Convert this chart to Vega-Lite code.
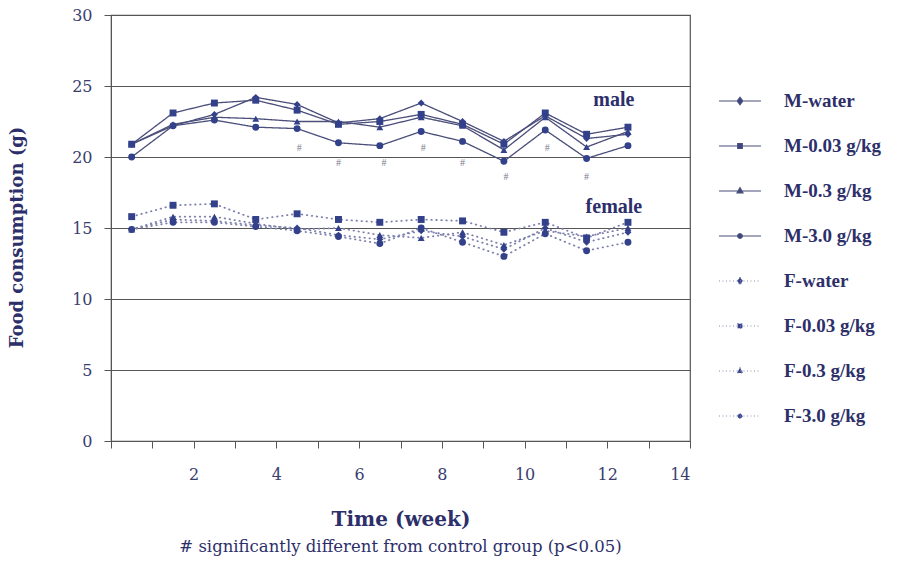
{
  "$schema": "https://vega.github.io/schema/vega-lite/v6.json",
  "width": 579,
  "height": 426,
  "autosize": "none",
  "padding": {"left": 111, "top": 15, "right": 213, "bottom": 125},
  "background": "white",
  "title": {
    "text": "# significantly different from control group (p<0.05)",
    "orient": "bottom",
    "anchor": "middle",
    "frame": "group",
    "offset": 10,
    "font": "DejaVu Serif",
    "fontSize": 16.5,
    "fontWeight": "normal",
    "color": "#2d2f6a"
  },
  "config": {
    "view": {"stroke": "#555", "strokeWidth": 1.2},
    "axis": {
      "domainColor": "#555",
      "tickColor": "#555",
      "tickSize": 7,
      "labelFont": "DejaVu Serif",
      "labelFontSize": 15,
      "labelColor": "#3a3d6e",
      "titleFont": "DejaVu Serif",
      "titleFontWeight": "bold",
      "titleColor": "#2d2f6a"
    }
  },
  "datasets": {
    "food": [
      {"week": 0.5, "value": 20.9, "series": "M-water", "sex": "M"},
      {"week": 1.5, "value": 22.2, "series": "M-water", "sex": "M"},
      {"week": 2.5, "value": 23.0, "series": "M-water", "sex": "M"},
      {"week": 3.5, "value": 24.2, "series": "M-water", "sex": "M"},
      {"week": 4.5, "value": 23.7, "series": "M-water", "sex": "M"},
      {"week": 5.5, "value": 22.4, "series": "M-water", "sex": "M"},
      {"week": 6.5, "value": 22.7, "series": "M-water", "sex": "M"},
      {"week": 7.5, "value": 23.8, "series": "M-water", "sex": "M"},
      {"week": 8.5, "value": 22.5, "series": "M-water", "sex": "M"},
      {"week": 9.5, "value": 21.1, "series": "M-water", "sex": "M"},
      {"week": 10.5, "value": 22.9, "series": "M-water", "sex": "M"},
      {"week": 11.5, "value": 21.3, "series": "M-water", "sex": "M"},
      {"week": 12.5, "value": 21.6, "series": "M-water", "sex": "M"},

      {"week": 0.5, "value": 20.9, "series": "M-0.03 g/kg", "sex": "M"},
      {"week": 1.5, "value": 23.1, "series": "M-0.03 g/kg", "sex": "M"},
      {"week": 2.5, "value": 23.8, "series": "M-0.03 g/kg", "sex": "M"},
      {"week": 3.5, "value": 24.0, "series": "M-0.03 g/kg", "sex": "M"},
      {"week": 4.5, "value": 23.3, "series": "M-0.03 g/kg", "sex": "M"},
      {"week": 5.5, "value": 22.3, "series": "M-0.03 g/kg", "sex": "M"},
      {"week": 6.5, "value": 22.5, "series": "M-0.03 g/kg", "sex": "M"},
      {"week": 7.5, "value": 23.0, "series": "M-0.03 g/kg", "sex": "M"},
      {"week": 8.5, "value": 22.3, "series": "M-0.03 g/kg", "sex": "M"},
      {"week": 9.5, "value": 20.9, "series": "M-0.03 g/kg", "sex": "M"},
      {"week": 10.5, "value": 23.1, "series": "M-0.03 g/kg", "sex": "M"},
      {"week": 11.5, "value": 21.6, "series": "M-0.03 g/kg", "sex": "M"},
      {"week": 12.5, "value": 22.1, "series": "M-0.03 g/kg", "sex": "M"},

      {"week": 0.5, "value": 20.9, "series": "M-0.3 g/kg", "sex": "M"},
      {"week": 1.5, "value": 22.3, "series": "M-0.3 g/kg", "sex": "M"},
      {"week": 2.5, "value": 22.8, "series": "M-0.3 g/kg", "sex": "M"},
      {"week": 3.5, "value": 22.7, "series": "M-0.3 g/kg", "sex": "M"},
      {"week": 4.5, "value": 22.5, "series": "M-0.3 g/kg", "sex": "M"},
      {"week": 5.5, "value": 22.5, "series": "M-0.3 g/kg", "sex": "M"},
      {"week": 6.5, "value": 22.1, "series": "M-0.3 g/kg", "sex": "M"},
      {"week": 7.5, "value": 22.8, "series": "M-0.3 g/kg", "sex": "M"},
      {"week": 8.5, "value": 22.2, "series": "M-0.3 g/kg", "sex": "M"},
      {"week": 9.5, "value": 20.5, "series": "M-0.3 g/kg", "sex": "M"},
      {"week": 10.5, "value": 22.8, "series": "M-0.3 g/kg", "sex": "M"},
      {"week": 11.5, "value": 20.7, "series": "M-0.3 g/kg", "sex": "M"},
      {"week": 12.5, "value": 21.8, "series": "M-0.3 g/kg", "sex": "M"},

      {"week": 0.5, "value": 20.0, "series": "M-3.0 g/kg", "sex": "M"},
      {"week": 1.5, "value": 22.2, "series": "M-3.0 g/kg", "sex": "M"},
      {"week": 2.5, "value": 22.6, "series": "M-3.0 g/kg", "sex": "M"},
      {"week": 3.5, "value": 22.1, "series": "M-3.0 g/kg", "sex": "M"},
      {"week": 4.5, "value": 22.0, "series": "M-3.0 g/kg", "sex": "M"},
      {"week": 5.5, "value": 21.0, "series": "M-3.0 g/kg", "sex": "M"},
      {"week": 6.5, "value": 20.8, "series": "M-3.0 g/kg", "sex": "M"},
      {"week": 7.5, "value": 21.8, "series": "M-3.0 g/kg", "sex": "M"},
      {"week": 8.5, "value": 21.1, "series": "M-3.0 g/kg", "sex": "M"},
      {"week": 9.5, "value": 19.7, "series": "M-3.0 g/kg", "sex": "M"},
      {"week": 10.5, "value": 21.9, "series": "M-3.0 g/kg", "sex": "M"},
      {"week": 11.5, "value": 19.9, "series": "M-3.0 g/kg", "sex": "M"},
      {"week": 12.5, "value": 20.8, "series": "M-3.0 g/kg", "sex": "M"},

      {"week": 0.5, "value": 14.9, "series": "F-water", "sex": "F"},
      {"week": 1.5, "value": 15.6, "series": "F-water", "sex": "F"},
      {"week": 2.5, "value": 15.5, "series": "F-water", "sex": "F"},
      {"week": 3.5, "value": 15.2, "series": "F-water", "sex": "F"},
      {"week": 4.5, "value": 15.0, "series": "F-water", "sex": "F"},
      {"week": 5.5, "value": 14.5, "series": "F-water", "sex": "F"},
      {"week": 6.5, "value": 14.2, "series": "F-water", "sex": "F"},
      {"week": 7.5, "value": 14.8, "series": "F-water", "sex": "F"},
      {"week": 8.5, "value": 14.4, "series": "F-water", "sex": "F"},
      {"week": 9.5, "value": 13.5, "series": "F-water", "sex": "F"},
      {"week": 10.5, "value": 15.0, "series": "F-water", "sex": "F"},
      {"week": 11.5, "value": 14.0, "series": "F-water", "sex": "F"},
      {"week": 12.5, "value": 14.7, "series": "F-water", "sex": "F"},

      {"week": 0.5, "value": 15.8, "series": "F-0.03 g/kg", "sex": "F"},
      {"week": 1.5, "value": 16.6, "series": "F-0.03 g/kg", "sex": "F"},
      {"week": 2.5, "value": 16.7, "series": "F-0.03 g/kg", "sex": "F"},
      {"week": 3.5, "value": 15.6, "series": "F-0.03 g/kg", "sex": "F"},
      {"week": 4.5, "value": 16.0, "series": "F-0.03 g/kg", "sex": "F"},
      {"week": 5.5, "value": 15.6, "series": "F-0.03 g/kg", "sex": "F"},
      {"week": 6.5, "value": 15.4, "series": "F-0.03 g/kg", "sex": "F"},
      {"week": 7.5, "value": 15.6, "series": "F-0.03 g/kg", "sex": "F"},
      {"week": 8.5, "value": 15.5, "series": "F-0.03 g/kg", "sex": "F"},
      {"week": 9.5, "value": 14.7, "series": "F-0.03 g/kg", "sex": "F"},
      {"week": 10.5, "value": 15.4, "series": "F-0.03 g/kg", "sex": "F"},
      {"week": 11.5, "value": 14.3, "series": "F-0.03 g/kg", "sex": "F"},
      {"week": 12.5, "value": 15.4, "series": "F-0.03 g/kg", "sex": "F"},

      {"week": 0.5, "value": 14.9, "series": "F-0.3 g/kg", "sex": "F"},
      {"week": 1.5, "value": 15.8, "series": "F-0.3 g/kg", "sex": "F"},
      {"week": 2.5, "value": 15.8, "series": "F-0.3 g/kg", "sex": "F"},
      {"week": 3.5, "value": 15.3, "series": "F-0.3 g/kg", "sex": "F"},
      {"week": 4.5, "value": 14.9, "series": "F-0.3 g/kg", "sex": "F"},
      {"week": 5.5, "value": 15.0, "series": "F-0.3 g/kg", "sex": "F"},
      {"week": 6.5, "value": 14.5, "series": "F-0.3 g/kg", "sex": "F"},
      {"week": 7.5, "value": 14.3, "series": "F-0.3 g/kg", "sex": "F"},
      {"week": 8.5, "value": 14.7, "series": "F-0.3 g/kg", "sex": "F"},
      {"week": 9.5, "value": 13.8, "series": "F-0.3 g/kg", "sex": "F"},
      {"week": 10.5, "value": 14.8, "series": "F-0.3 g/kg", "sex": "F"},
      {"week": 11.5, "value": 14.4, "series": "F-0.3 g/kg", "sex": "F"},
      {"week": 12.5, "value": 15.0, "series": "F-0.3 g/kg", "sex": "F"},

      {"week": 0.5, "value": 14.9, "series": "F-3.0 g/kg", "sex": "F"},
      {"week": 1.5, "value": 15.4, "series": "F-3.0 g/kg", "sex": "F"},
      {"week": 2.5, "value": 15.4, "series": "F-3.0 g/kg", "sex": "F"},
      {"week": 3.5, "value": 15.1, "series": "F-3.0 g/kg", "sex": "F"},
      {"week": 4.5, "value": 14.8, "series": "F-3.0 g/kg", "sex": "F"},
      {"week": 5.5, "value": 14.4, "series": "F-3.0 g/kg", "sex": "F"},
      {"week": 6.5, "value": 13.9, "series": "F-3.0 g/kg", "sex": "F"},
      {"week": 7.5, "value": 15.0, "series": "F-3.0 g/kg", "sex": "F"},
      {"week": 8.5, "value": 14.0, "series": "F-3.0 g/kg", "sex": "F"},
      {"week": 9.5, "value": 13.0, "series": "F-3.0 g/kg", "sex": "F"},
      {"week": 10.5, "value": 14.6, "series": "F-3.0 g/kg", "sex": "F"},
      {"week": 11.5, "value": 13.4, "series": "F-3.0 g/kg", "sex": "F"},
      {"week": 12.5, "value": 14.0, "series": "F-3.0 g/kg", "sex": "F"}
    ],
    "marks": [
      {"week": 4.55, "value": 20.65},
      {"week": 5.5, "value": 19.55},
      {"week": 6.6, "value": 19.55},
      {"week": 7.55, "value": 20.65},
      {"week": 8.5, "value": 19.55},
      {"week": 9.55, "value": 18.6},
      {"week": 10.55, "value": 20.65},
      {"week": 11.5, "value": 18.6}
    ],
    "groups": [
      {"week": 12.16, "value": 24.0, "label": "male"},
      {"week": 12.16, "value": 16.5, "label": "female"}
    ]
  },
  "resolve": {
    "scale": {"shape": "independent", "strokeDash": "independent", "stroke": "independent"},
    "legend": {"shape": "independent", "strokeDash": "independent", "stroke": "independent"}
  },
  "layer": [
    {
      "data": {"name": "food"},
      "mark": {"type": "line", "strokeCap": "round"},
      "encoding": {
        "x": {
          "field": "week", "type": "quantitative",
          "scale": {"domain": [0, 14], "nice": false, "zero": false},
          "axis": {
            "values": [0, 1, 2, 3, 4, 5, 6, 7, 8, 9, 10, 11, 12, 13, 14],
            "labelExpr": "datum.value % 2 === 0 && datum.value > 0 ? datum.label : ''",
            "grid": false,
            "labelPadding": 18,
            "labelFontSize": 16,
            "title": "Time (week)",
            "titleFontSize": 20,
            "titleY": 78,
            "titleBaseline": "middle"
          }
        },
        "y": {
          "field": "value", "type": "quantitative",
          "scale": {"domain": [0, 30], "nice": false},
          "axis": {
            "values": [0, 5, 10, 15, 20, 25, 30],
            "grid": true,
            "gridColor": "#555",
            "gridWidth": 1.2,
            "labelPadding": 12,
            "labelFontSize": 16,
            "title": "Food consumption (g)",
            "titleFontSize": 18,
            "titleAngle": 270,
            "titleX": -94,
            "titleY": 222,
            "titleAlign": "center",
            "titleBaseline": "middle"
          }
        },
        "detail": {"field": "series"},
        "stroke": {
          "field": "sex", "type": "nominal",
          "scale": {"domain": ["M", "F"], "range": ["#4b4f7a", "#7d81ad"]},
          "legend": null
        },
        "strokeDash": {
          "field": "sex", "type": "nominal",
          "scale": {"domain": ["M", "F"], "range": [[1, 0], [0.5, 4.5]]},
          "legend": null
        },
        "strokeWidth": {
          "field": "sex", "type": "nominal",
          "scale": {"domain": ["M", "F"], "range": [1.3, 1.8]},
          "legend": null
        }
      }
    },
    {
      "data": {"name": "food"},
      "mark": {"type": "point", "filled": true, "opacity": 1, "color": "#33408a", "size": 48},
      "encoding": {
        "x": {"field": "week", "type": "quantitative"},
        "y": {"field": "value", "type": "quantitative"},
        "shape": {
          "field": "series", "type": "nominal",
          "scale": {
            "domain": ["M-water", "M-0.03 g/kg", "M-0.3 g/kg", "M-3.0 g/kg", "F-water", "F-0.03 g/kg", "F-0.3 g/kg", "F-3.0 g/kg"],
            "range": ["diamond", "square", "triangle-up", "circle", "diamond", "square", "triangle-up", "circle"]
          },
          "legend": null
        }
      }
    },
    {
      "data": {"name": "food"},
      "transform": [{"filter": "datum.week < 0"}],
      "mark": {"type": "point", "filled": true, "fill": "#33408a", "stroke": "#4b4f7a", "strokeWidth": 1.2, "opacity": 1},
      "encoding": {
        "shape": {
          "field": "series", "type": "nominal",
          "scale": {
            "domain": ["M-water", "M-0.03 g/kg", "M-0.3 g/kg", "M-3.0 g/kg", "F-water", "F-0.03 g/kg", "F-0.3 g/kg", "F-3.0 g/kg"],
            "range": [
              "M-1,0H1M0,-0.18L0.13,0L0,0.18L-0.13,0Z",
              "M-1,0H1M-0.11,-0.11H0.11V0.11H-0.11Z",
              "M-1,0H1M0,-0.16L0.14,0.09H-0.14Z",
              "M-1,0H1M0.11,0A0.11,0.11,0,1,1,-0.11,0A0.11,0.11,0,1,1,0.11,0Z",
              "M-1,0H1M0,-0.18L0.13,0L0,0.18L-0.13,0Z",
              "M-1,0H1M-0.11,-0.11H0.11V0.11H-0.11Z",
              "M-1,0H1M0,-0.16L0.14,0.09H-0.14Z",
              "M-1,0H1M0.11,0A0.11,0.11,0,1,1,-0.11,0A0.11,0.11,0,1,1,0.11,0Z"
            ]
          },
          "legend": {
            "title": null,
            "orient": "none",
            "legendX": 607,
            "legendY": 64,
            "padding": 0,
            "symbolSize": 1764,
            "symbolStrokeWidth": 1.2,
            "rowPadding": 13,
            "labelOffset": 22,
            "labelFont": "Liberation Serif",
            "labelFontSize": 19,
            "labelFontWeight": "bold",
            "labelColor": "#2d2f6a",
            "labelLimit": 300
          }
        },
        "strokeDash": {
          "field": "series", "type": "nominal",
          "scale": {
            "domain": ["M-water", "M-0.03 g/kg", "M-0.3 g/kg", "M-3.0 g/kg", "F-water", "F-0.03 g/kg", "F-0.3 g/kg", "F-3.0 g/kg"],
            "range": [[1, 0], [1, 0], [1, 0], [1, 0], [1, 2.5], [1, 2.5], [1, 2.5], [1, 2.5]]
          }
        },
        "stroke": {
          "field": "series", "type": "nominal",
          "scale": {
            "domain": ["M-water", "M-0.03 g/kg", "M-0.3 g/kg", "M-3.0 g/kg", "F-water", "F-0.03 g/kg", "F-0.3 g/kg", "F-3.0 g/kg"],
            "range": ["#4b4f7a", "#4b4f7a", "#4b4f7a", "#4b4f7a", "#8a8eb5", "#8a8eb5", "#8a8eb5", "#8a8eb5"]
          }
        }
      }
    },
    {
      "data": {"name": "marks"},
      "mark": {"type": "text", "text": "#", "font": "Liberation Serif", "fontSize": 10, "color": "#7a7a90"},
      "encoding": {
        "x": {"field": "week", "type": "quantitative"},
        "y": {"field": "value", "type": "quantitative"}
      }
    },
    {
      "data": {"name": "groups"},
      "mark": {"type": "text", "font": "Liberation Serif", "fontSize": 20, "fontWeight": "bold", "color": "#2d2f6a"},
      "encoding": {
        "x": {"field": "week", "type": "quantitative"},
        "y": {"field": "value", "type": "quantitative"},
        "text": {"field": "label"}
      }
    }
  ]
}
